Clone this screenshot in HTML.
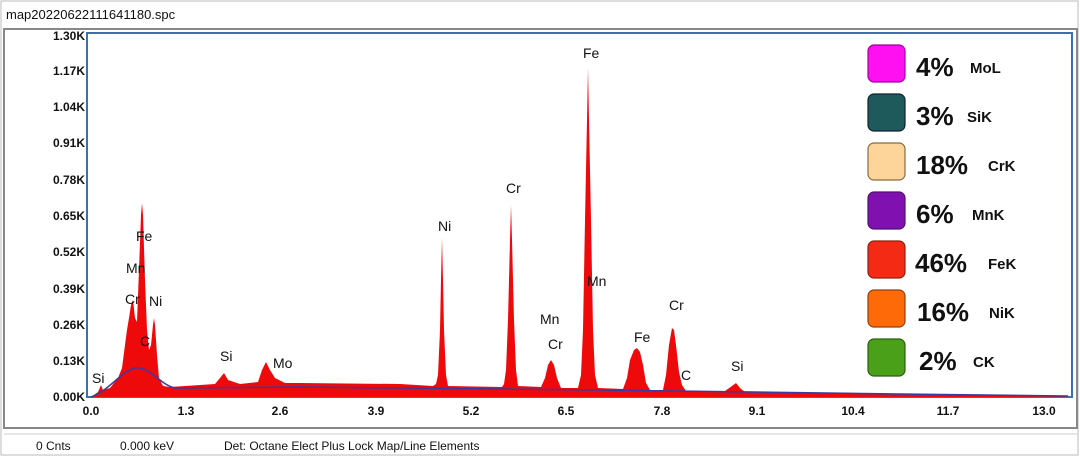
<!DOCTYPE html>
<html><head><meta charset="utf-8"><style>
body{margin:0;width:1080px;height:456px;background:#fff;overflow:hidden;font-family:"Liberation Sans",sans-serif}
</style></head><body>
<svg width="1080" height="456" xmlns="http://www.w3.org/2000/svg" font-family="Liberation Sans, sans-serif">
<rect x="0" y="0" width="1080" height="456" fill="#fff"/>
<rect x="1" y="1" width="1077" height="454" fill="none" stroke="#bbb"/>
<text x="6" y="19" font-size="13" fill="#111">map20220622111641180.spc</text>
<rect x="4" y="29" width="1073" height="399" fill="#fff" stroke="#888" stroke-width="2"/>
<rect x="87" y="33" width="985" height="364" fill="#fff" stroke="#3a6fb0" stroke-width="2"/>
<g font-size="12" fill="#111" text-anchor="end" font-weight="bold">
<text x="85" y="40">1.30K</text><text x="85" y="75">1.17K</text><text x="85" y="111">1.04K</text>
<text x="85" y="147">0.91K</text><text x="85" y="184">0.78K</text><text x="85" y="220">0.65K</text>
<text x="85" y="256">0.52K</text><text x="85" y="293">0.39K</text><text x="85" y="329">0.26K</text>
<text x="85" y="365">0.13K</text><text x="85" y="401">0.00K</text>
</g>
<g font-size="12" fill="#111" text-anchor="middle" font-weight="bold">
<text x="91" y="415">0.0</text><text x="186" y="415">1.3</text><text x="280" y="415">2.6</text>
<text x="376" y="415">3.9</text><text x="471" y="415">5.2</text><text x="566" y="415">6.5</text>
<text x="662" y="415">7.8</text><text x="757" y="415">9.1</text><text x="853" y="415">10.4</text>
<text x="948" y="415">11.7</text><text x="1044" y="415">13.0</text>
</g>
<polygon fill="#ee0a0a" points="91,397 98,392 101,385 103,390 110,388 118,378 122,368 125,345 127,330 129,318 131,305 133,300 135,318 137,322 139,270 141,215 142,203 143,215 145,280 147,330 149,350 151,345 153,325 154,318 155,325 157,355 159,378 163,386 170,387 200,385 215,384 220,378 224,373 228,380 240,384 258,382 262,370 266,362 270,370 275,378 285,383 300,383 400,384 433,386 436,384 438,375 440,330 441,280 442,238 443,280 444,330 446,375 448,386 502,387 504,384 506,370 508,320 510,240 511,205 512,240 514,320 516,370 518,386 541,387 545,378 548,365 551,360 554,365 557,378 561,388 578,388 581,375 583,330 585,220 587,120 588,68 589,120 591,220 593,330 595,375 598,388 623,389 627,378 630,360 634,350 637,348 640,352 643,365 646,383 650,390 663,390 666,375 669,345 672,328 674,330 676,345 679,372 682,385 686,391 725,391 732,386 736,383 740,388 745,392 800,393 900,394 1000,395 1060,396 1068,397"/>
<path d="M91,397 C110,390 120,372 135,368 C150,366 160,385 175,388 L300,387 L600,390 L900,394 L1068,396" fill="none" stroke="#3a3aa0" stroke-width="1.5"/>
<g font-size="14" fill="#111">
<text x="92" y="383">Si</text><text x="126" y="273">Mn</text><text x="136" y="241">Fe</text>
<text x="125" y="304">Cr</text><text x="149" y="306">Ni</text><text x="140" y="346">C</text>
<text x="220" y="361">Si</text><text x="273" y="368">Mo</text><text x="438" y="231">Ni</text>
<text x="506" y="193">Cr</text><text x="540" y="324">Mn</text><text x="548" y="349">Cr</text>
<text x="583" y="58">Fe</text><text x="587" y="286">Mn</text><text x="634" y="342">Fe</text>
<text x="681" y="380">C</text><text x="669" y="310">Cr</text><text x="731" y="371">Si</text>
</g>
<g stroke-width="1.2">
<rect x="868" y="45" width="37" height="37" rx="6" fill="#ff10f0" stroke="#a000a0"/>
<rect x="868" y="94" width="37" height="37" rx="6" fill="#1e5a5c" stroke="#123"/>
<rect x="868" y="143" width="37" height="37" rx="6" fill="#fdd49a" stroke="#8a6a40"/>
<rect x="868" y="192" width="37" height="37" rx="6" fill="#8010b0" stroke="#501070"/>
<rect x="868" y="241" width="37" height="37" rx="6" fill="#f42a14" stroke="#902010"/>
<rect x="868" y="290" width="37" height="37" rx="6" fill="#ff6a08" stroke="#904010"/>
<rect x="868" y="339" width="37" height="37" rx="6" fill="#4aa018" stroke="#2a6010"/>
</g>
<g font-weight="bold" fill="#111">
<text x="916" y="76" font-size="26">4%</text><text x="970" y="73" font-size="15">MoL</text>
<text x="916" y="125" font-size="26">3%</text><text x="967" y="122" font-size="15">SiK</text>
<text x="916" y="174" font-size="26">18%</text><text x="988" y="171" font-size="15">CrK</text>
<text x="916" y="223" font-size="26">6%</text><text x="972" y="220" font-size="15">MnK</text>
<text x="915" y="272" font-size="26">46%</text><text x="988" y="269" font-size="15">FeK</text>
<text x="917" y="321" font-size="26">16%</text><text x="989" y="318" font-size="15">NiK</text>
<text x="919" y="370" font-size="26">2%</text><text x="973" y="367" font-size="15">CK</text>
</g>
<line x1="4" y1="434" x2="1077" y2="434" stroke="#ccc"/>
<g font-size="12" fill="#111">
<text x="36" y="450">0 Cnts</text><text x="120" y="450">0.000 keV</text>
<text x="224" y="450">Det: Octane Elect Plus Lock Map/Line Elements</text>
</g>
</svg>
</body></html>
